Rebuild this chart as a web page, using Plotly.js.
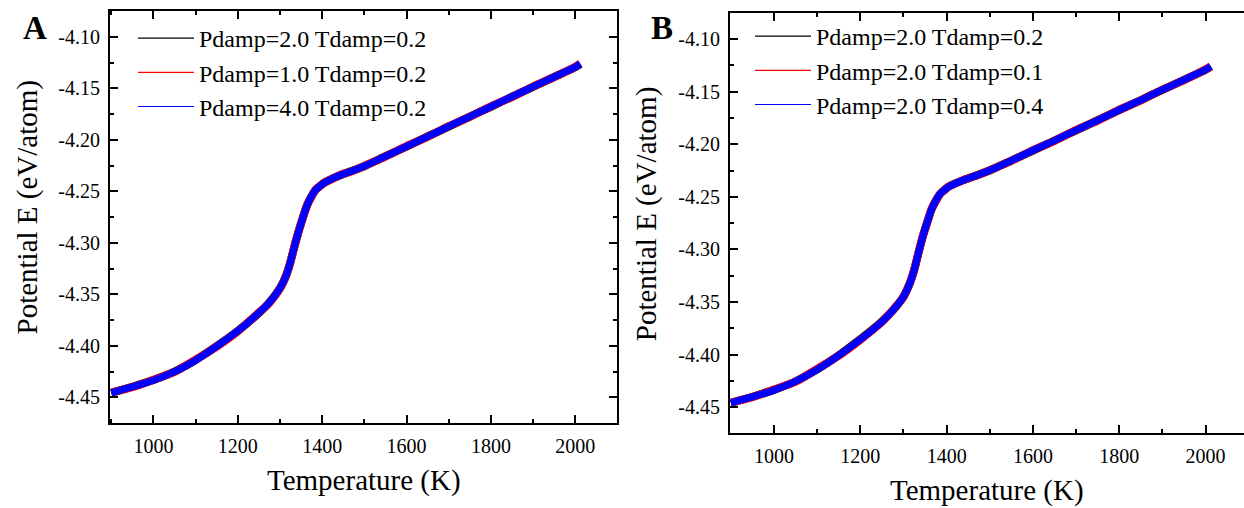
<!DOCTYPE html>
<html>
<head>
<meta charset="utf-8">
<script src="https://cdn.plot.ly/plotly-3.0.1.min.js"></script>
<style>html,body{margin:0;padding:0;background:#fff;}#chart{width:1244px;height:508px;}</style>
</head>
<body>
<div id="chart"></div>
<script>
// ---- data ----
const tempK = [900, 950, 1000, 1050, 1100, 1150, 1200, 1250, 1275, 1300, 1315, 1325, 1335, 1345, 1355, 1365, 1375, 1385, 1395, 1405, 1420, 1440, 1470, 1500, 1550, 1600, 1650, 1700, 1750, 1800, 1850, 1900, 1950, 2000, 2012];

// Panel A
const eA_P2_T02 = [-4.4458, -4.4398, -4.4333, -4.4250, -4.4138, -4.4003, -4.3855, -4.3682, -4.3578, -4.3440, -4.3315, -4.3180, -4.3025, -4.2880, -4.2745, -4.2630, -4.2545, -4.2485, -4.2448, -4.2418, -4.2385, -4.2350, -4.2303, -4.2257, -4.2160, -4.2066, -4.1968, -4.1872, -4.1775, -4.1680, -4.1582, -4.1487, -4.1390, -4.1296, -4.1266];
const eA_P1_T02 = [-4.4455, -4.4402, -4.4330, -4.4254, -4.4135, -4.4008, -4.3860, -4.3678, -4.3583, -4.3445, -4.3310, -4.3188, -4.3020, -4.2873, -4.2752, -4.2625, -4.2550, -4.2480, -4.2450, -4.2415, -4.2388, -4.2346, -4.2306, -4.2253, -4.2163, -4.2062, -4.1972, -4.1868, -4.1778, -4.1676, -4.1585, -4.1483, -4.1393, -4.1292, -4.1262];
const eA_P4_T02 = [-4.4457, -4.4400, -4.4335, -4.4252, -4.4140, -4.4005, -4.3857, -4.3680, -4.3580, -4.3442, -4.3313, -4.3183, -4.3023, -4.2877, -4.2748, -4.2628, -4.2547, -4.2483, -4.2449, -4.2417, -4.2386, -4.2348, -4.2304, -4.2255, -4.2161, -4.2064, -4.1970, -4.1870, -4.1776, -4.1678, -4.1583, -4.1485, -4.1391, -4.1294, -4.1264];

// Panel B
const eB_P2_T02 = [-4.4460, -4.4400, -4.4335, -4.4253, -4.4140, -4.4005, -4.3853, -4.3685, -4.3582, -4.3448, -4.3320, -4.3190, -4.3030, -4.2875, -4.2740, -4.2620, -4.2535, -4.2473, -4.2433, -4.2403, -4.2372, -4.2340, -4.2295, -4.2250, -4.2155, -4.2060, -4.1965, -4.1868, -4.1772, -4.1676, -4.1580, -4.1484, -4.1388, -4.1292, -4.1262];
const eB_P2_T01 = [-4.4456, -4.4404, -4.4332, -4.4257, -4.4136, -4.4010, -4.3859, -4.3689, -4.3577, -4.3454, -4.3314, -4.3196, -4.3024, -4.2869, -4.2746, -4.2615, -4.2540, -4.2469, -4.2437, -4.2400, -4.2375, -4.2337, -4.2298, -4.2246, -4.2158, -4.2056, -4.1968, -4.1864, -4.1775, -4.1672, -4.1583, -4.1480, -4.1391, -4.1288, -4.1258];
const eB_P2_T04 = [-4.4458, -4.4402, -4.4337, -4.4255, -4.4142, -4.4007, -4.3856, -4.3687, -4.3580, -4.3450, -4.3318, -4.3193, -4.3027, -4.2872, -4.2743, -4.2618, -4.2537, -4.2471, -4.2435, -4.2402, -4.2373, -4.2339, -4.2296, -4.2248, -4.2156, -4.2058, -4.1966, -4.1866, -4.1773, -4.1674, -4.1581, -4.1482, -4.1389, -4.1290, -4.1260];

const seriesNamesA = ['Pdamp=2.0 Tdamp=0.2', 'Pdamp=1.0 Tdamp=0.2', 'Pdamp=4.0 Tdamp=0.2'];
const seriesNamesB = ['Pdamp=2.0 Tdamp=0.2', 'Pdamp=2.0 Tdamp=0.1', 'Pdamp=2.0 Tdamp=0.4'];
const seriesColors = ['#000000', '#ff0000', '#0000ff'];

const xTickVals = [1000, 1200, 1400, 1600, 1800, 2000];
const xTickText = ['1000', '1200', '1400', '1600', '1800', '2000'];
const xMinorVals = [900, 1100, 1300, 1500, 1700, 1900, 2100];
const yTickVals = [-4.45, -4.40, -4.35, -4.30, -4.25, -4.20, -4.15, -4.10];
const yTickText = ['-4.45', '-4.40', '-4.35', '-4.30', '-4.25', '-4.20', '-4.15', '-4.10'];
const yMinorVals = [-4.425, -4.375, -4.325, -4.275, -4.225, -4.175, -4.125];

const xTitle = 'Temperature (K)';
const yTitle = 'Potential E (eV/atom)';
const panelLabels = ['A', 'B'];

// ---- figure ----
const W = 1244, H = 508;
const FONT = 'Liberation Serif';
const widths = [8, 8, 7];

const traces = [];
function addPanel(xa, ya, legendId, names, series) {
  series.forEach((ys, i) => {
    traces.push({
      type: 'scatter', mode: 'lines', x: tempK, y: ys,
      xaxis: xa, yaxis: ya, showlegend: false,
      line: {color: seriesColors[i], width: widths[i], shape: 'spline', smoothing: 0.6}
    });
  });
  names.forEach((n, i) => {
    traces.push({
      type: 'scatter', mode: 'lines', x: [null], y: [null], name: n,
      xaxis: xa, yaxis: ya, legend: legendId, showlegend: true,
      line: {color: seriesColors[i], width: 1.2}
    });
  });
}
addPanel('x', 'y', 'legend', seriesNamesA, [eA_P2_T02, eA_P1_T02, eA_P4_T02]);
addPanel('x2', 'y2', 'legend2', seriesNamesB, [eB_P2_T02, eB_P2_T01, eB_P2_T04]);

function xAxis(domain, range, anchor) {
  return {
    domain: domain, range: range, anchor: anchor,
    tickmode: 'array', tickvals: xTickVals, ticktext: xTickText,
    ticks: 'inside', ticklen: 8, tickwidth: 2, tickcolor: '#000',
    showline: true, linewidth: 2, linecolor: '#000', mirror: 'allticks',
    showgrid: false, zeroline: false, ticklabelstandoff: 4,
    tickfont: {family: FONT, size: 20, color: '#000'},
    minor: {tickmode: 'array', tickvals: xMinorVals, ticks: 'inside', ticklen: 4, tickwidth: 2, tickcolor: '#000', showgrid: false}
  };
}
function yAxis(domain, range, anchor, mirror) {
  return {
    domain: domain, range: range, anchor: anchor,
    tickmode: 'array', tickvals: yTickVals, ticktext: yTickText,
    ticks: 'inside', ticklen: 8, tickwidth: 2, tickcolor: '#000',
    showline: true, linewidth: 2, linecolor: '#000', mirror: mirror,
    showgrid: false, zeroline: false, ticklabelstandoff: 4,
    tickfont: {family: FONT, size: 20, color: '#000'},
    minor: {tickmode: 'array', tickvals: yMinorVals, ticks: 'inside', ticklen: 4, tickwidth: 2, tickcolor: '#000', showgrid: false}
  };
}

function legendAt(xpx, ypx) {
  return {
    x: xpx / W, y: 1 - ypx / H, xanchor: 'left', yanchor: 'top',
    bgcolor: 'rgba(0,0,0,0)', borderwidth: 0, itemwidth: 56,
    font: {family: FONT, size: 24, color: '#000'}, tracegroupgap: 0
  };
}

function ann(text, xpx, ypx, size, extra) {
  return Object.assign({
    text: text, xref: 'paper', yref: 'paper', x: xpx / W, y: 1 - ypx / H,
    xanchor: 'center', yanchor: 'middle', showarrow: false,
    font: {family: FONT, size: size, color: '#000'}
  }, extra || {});
}

const layout = {
  width: W, height: H,
  margin: {l: 0, r: 0, t: 0, b: 0},
  paper_bgcolor: '#fff', plot_bgcolor: '#fff',
  font: {family: FONT, color: '#000'},
  showlegend: true,
  xaxis: xAxis([110 / W, 617 / W], [897, 2099], 'y'),
  yaxis: yAxis([1 - 423 / H, 1 - 11 / H], [-4.475, -4.075], 'x', 'allticks'),
  xaxis2: xAxis([730 / W, 1], [898, 2089], 'y2'),
  yaxis2: yAxis([1 - 432.7 / H, 1 - 12.7 / H], [-4.4742, -4.075], 'x2', false),
  legend: legendAt(133, 16),
  legend2: legendAt(750, 14),
  annotations: [
    ann(panelLabels[0], 34.5, 28, 33, {font: {family: FONT, size: 33, color: '#000', weight: 'bold'}}),
    ann(panelLabels[1], 662, 28, 33, {font: {family: FONT, size: 33, color: '#000', weight: 'bold'}}),
    ann(xTitle, 363.5, 480, 29),
    ann(xTitle, 987, 490, 29),
    ann(yTitle, 27, 207.5, 29, {textangle: -90}),
    ann(yTitle, 646.7, 213.5, 29, {textangle: -90})
  ]
};

Plotly.newPlot('chart', traces, layout, {displayModeBar: false, staticPlot: true});
</script>
</body>
</html>
